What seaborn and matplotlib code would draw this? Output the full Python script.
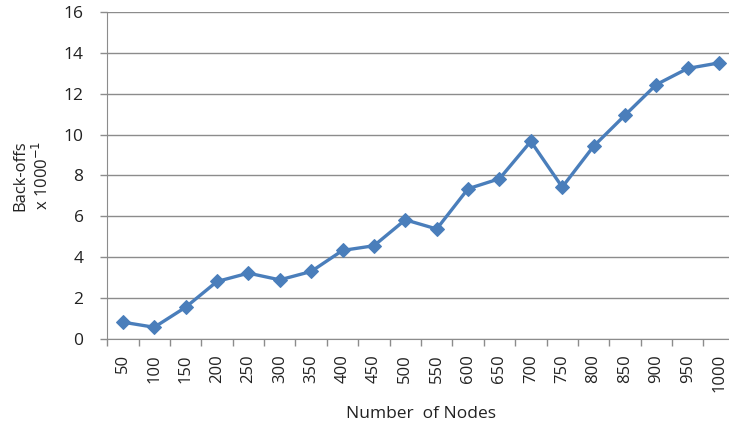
import numpy as np
import pandas as pd
import matplotlib
matplotlib.use("Agg")
import matplotlib.pyplot as plt
import seaborn as sns

nodes = [50, 100, 150, 200, 250, 300, 350, 400, 450, 500,
         550, 600, 650, 700, 750, 800, 850, 900, 950, 1000]
backoffs = [0.82, 0.57, 1.55, 2.81, 3.22, 2.89, 3.30, 4.33, 4.56, 5.83,
            5.38, 7.35, 7.84, 9.67, 7.43, 9.43, 10.95, 12.45, 13.24, 13.51]

df = pd.DataFrame({"pos": np.arange(len(nodes)), "backoffs": backoffs})

sns.set_style("white")
plt.rcParams['font.family'] = ['Open Sans', 'DejaVu Sans']

fig = plt.figure(figsize=(7.29, 4.29), dpi=100)
ax = fig.add_axes([0.147, 0.21, 0.861, 0.762])

sns.lineplot(data=df, x="pos", y="backoffs", ax=ax, color="#4A7EBB",
             linewidth=2.4, marker="D", markersize=7, markeredgecolor="#4A7EBB",
             sort=False)

ax.set_xlim(-0.5, len(nodes) - 0.5)
ax.set_ylim(0, 16)
ax.set_yticks(range(0, 17, 2))
ax.yaxis.grid(True, color="#8C8C8C", linewidth=1)
ax.set_axisbelow(True)

ax.set_xticks(np.arange(len(nodes)))
ax.set_xticklabels([str(n) for n in nodes], rotation=90, fontsize=12, color="#222222")
ax.set_xticks(np.arange(len(nodes) + 1) - 0.5, minor=True)
ax.tick_params(axis="x", which="major", length=0, pad=11)
ax.tick_params(axis="x", which="minor", length=5, width=1, color="#8C8C8C", direction="out", bottom=True)
ax.tick_params(axis="y", length=5, width=1, color="#8C8C8C", direction="out", left=True,
               labelsize=12.5, labelcolor="#222222", pad=12)

for s in ["top", "right"]:
    ax.spines[s].set_visible(False)
ax.spines["left"].set_color("#8C8C8C")
ax.spines["bottom"].set_color("#8C8C8C")

ax.set_xlabel("Number  of Nodes", fontsize=12.5, color="#222222")
ax.xaxis.set_label_coords(0.5, -0.205)
ax.set_ylabel("Back-offs\nx 1000$^{-1}$", fontsize=12, color="#222222")
ax.yaxis.set_label_coords(-0.088, 0.5)

plt.savefig("out.png", dpi=100)
